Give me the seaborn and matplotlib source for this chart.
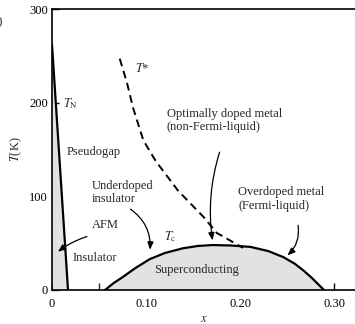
import numpy as np
import seaborn as sns
import matplotlib.pyplot as plt

# phase boundaries
tn_x = [0.0, 0.017]
tn_T = [262, 0]

dome_x = [0.0564, 0.065, 0.0755, 0.088, 0.104, 0.12, 0.139, 0.155, 0.171,
          0.19, 0.211, 0.23, 0.246, 0.258, 0.267, 0.276, 0.282, 0.289]
dome_T = [0, 7, 14, 23, 33, 39.5, 44.5, 47, 48, 47.5, 46, 41.5, 35, 28, 21, 13, 7, 0]

tstar_x = [0.072, 0.080, 0.086, 0.097, 0.110, 0.134, 0.161, 0.175, 0.203]
tstar_T = [247, 220, 195, 160, 138, 106, 78, 61, 45]

sns.set_style("ticks")
plt.rcParams['font.family'] = ['Liberation Serif', 'DejaVu Serif']
plt.rcParams['mathtext.fontset'] = 'stix'
plt.rcParams['font.size'] = 9

fig = plt.figure(figsize=(3.55, 3.24), dpi=100)
ax = fig.add_axes([0.1465, 0.105, 0.8535, 0.867])

grey = '#e2e2e2'
ax.fill_between(tn_x, tn_T, 0, color=grey, lw=0)
ax.fill_between(dome_x, dome_T, 0, color=grey, lw=0)
sns.lineplot(x=tn_x, y=tn_T, ax=ax, color='black', lw=1.6, sort=False)
sns.lineplot(x=dome_x, y=dome_T, ax=ax, color='black', lw=1.6, sort=False)
sns.lineplot(x=tstar_x, y=tstar_T, ax=ax, color='black', lw=1.4, sort=False,
             linestyle=(0, (4, 2.5)))

ax.set_xlim(0, 0.322)
ax.set_ylim(0, 300)
ax.set_xticks([0, 0.10, 0.20, 0.30])
ax.set_xticklabels(['0', '0.10', '0.20', '0.30'])
ax.set_xticks([0.05, 0.15, 0.25], minor=True)
ax.set_yticks([0, 100, 200, 300])
ax.tick_params(direction='in', length=5, width=1, labelsize=9, colors='black')
ax.tick_params(which='minor', direction='in', length=5, width=1)
ax.tick_params(axis='x', pad=6)
ax.tick_params(axis='y', pad=3)
ax.spines['right'].set_visible(False)
for s in ['left', 'bottom', 'top']:
    ax.spines[s].set_linewidth(1.2)
    ax.spines[s].set_color('black')

ax.set_xlabel('$x$', fontsize=9, labelpad=2)
ax.set_ylabel('$T$(K)', fontsize=9, labelpad=4)

fs = 9
ax.text(0.088, 236, '$T$*', fontsize=fs, ha='left', va='center')
ax.text(0.012, 199, r'$T_{\rm N}$', fontsize=fs, ha='left', va='center')
ax.text(0.016, 147, 'Pseudogap', fontsize=fs, ha='left', va='center')
ax.text(0.122, 181, 'Optimally doped metal\n(non-Fermi-liquid)', fontsize=fs,
        ha='left', va='center', linespacing=1.15)
ax.text(0.042, 104, 'Underdoped\ninsulator', fontsize=fs, ha='left', va='center',
        linespacing=1.15)
ax.text(0.042, 69, 'AFM', fontsize=fs, ha='left', va='center')
ax.text(0.022, 34, 'Insulator', fontsize=fs, ha='left', va='center')
ax.text(0.119, 57, r'$T_{\rm c}$', fontsize=fs, ha='left', va='center')
ax.text(0.154, 21, 'Superconducting', fontsize=fs, ha='center', va='center')
ax.text(0.198, 97, 'Overdoped metal\n(Fermi-liquid)', fontsize=fs, ha='left',
        va='center', linespacing=1.15)

arw = dict(arrowstyle='-|>,head_length=0.5,head_width=0.2', color='black', lw=0.9)
ax.annotate('', xy=(0.171, 50), xytext=(0.179, 150),
            arrowprops=dict(arw, connectionstyle='arc3,rad=0.12'))
ax.annotate('', xy=(0.104, 40), xytext=(0.081, 88),
            arrowprops=dict(arw, connectionstyle='arc3,rad=-0.3'))
ax.annotate('', xy=(0.004, 39), xytext=(0.040, 58),
            arrowprops=dict(arw, connectionstyle='arc3,rad=0.1'))
ax.annotate('', xy=(0.248, 35), xytext=(0.261, 72),
            arrowprops=dict(arw, connectionstyle='arc3,rad=-0.3'))

# panel label, clipped at the left edge as in the source figure
fig.text(0.009, 0.935, '(b)', fontsize=9, ha='right', va='center')

fig.savefig('out.png', dpi=100)
